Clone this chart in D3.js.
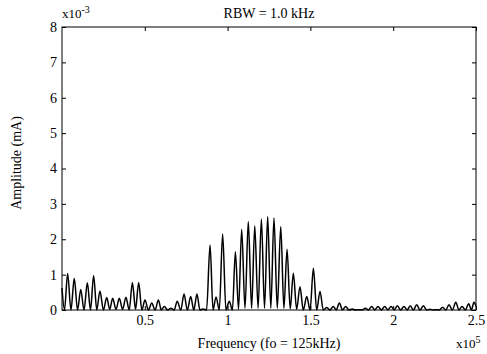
<!DOCTYPE html>
<html>
<head>
<meta charset="utf-8">
<script src="https://cdn.jsdelivr.net/npm/d3@7"></script>
<style>
  body { margin: 0; background: #fff; }
  text { font-family: "Liberation Serif", "Times New Roman", serif; fill: #000; }
</style>
</head>
<body>
<div class="spectrum"></div>
<script>
// spectrum: alternating peaks and troughs, freq in kHz, amplitude in 1e-3 mA
const freqKHz = [
  0, 1.5, 3.4, 5.4, 7.4, 9.4, 11.3, 13.3, 15.3, 17.2, 19.1, 21.0, 22.9, 25.0, 27.0, 28.8,
  30.6, 32.6, 34.6, 36.6, 38.6, 40.6, 42.5, 44.4, 46.3, 48.2, 50.1, 52.2, 54.2, 56.2, 58.2, 60.0,
  61.8, 63.8, 65.8, 67.7, 69.6, 71.7, 73.7, 75.7, 77.7, 79.6, 81.5, 83.3, 85.1, 87.3, 89.4, 91.2,
  93.0, 95.0, 97.0, 99.0, 101.0, 102.9, 104.7, 106.6, 108.5, 110.5, 112.5, 114.5, 116.4, 118.4,
  120.4, 122.3, 124.2, 126.1, 128.0, 130.0, 132.1, 134.0, 135.9, 137.8, 139.7, 141.7, 143.7, 145.7,
  147.8, 149.8, 151.8, 153.8, 155.8, 157.8, 159.9, 161.8, 163.8, 165.6, 167.5, 169.4, 171.3, 173.3,
  175.3, 177.2, 179.2, 181.2, 183.2, 185.1, 187.0, 188.9, 190.8, 192.8, 194.9, 196.8, 198.7, 200.6,
  202.5, 204.5, 206.5, 208.4, 210.3, 212.2, 214.2, 216.2, 218.2, 220.2, 222.2, 224.0, 225.9, 227.9,
  229.9, 231.8, 233.7, 235.7, 237.8, 239.7, 241.6, 243.6, 245.6, 247.2, 248.8, 250
];
const ampMilli = [
  0.62, 0, 1.03, 0, 0.89, 0, 0.58, 0, 0.77, 0, 0.97, 0, 0.54, 0, 0.35, 0.02,
  0.33, 0.02, 0.33, 0.02, 0.36, 0, 0.78, 0.02, 0.78, 0, 0.28, 0, 0.2, 0, 0.28, 0,
  0.1, 0, 0.05, 0, 0.25, 0, 0.45, 0, 0.38, 0, 0.45, 0, 0.03, 0, 1.84, 0,
  0.37, 0, 2.15, 0, 0.25, 0, 1.65, 0.02, 2.28, 0.05, 2.5, 0.05, 2.38, 0.05,
  2.57, 0.05, 2.64, 0.05, 2.6, 0.05, 2.36, 0.05, 1.72, 0.03, 1.04, 0.02, 0.66, 0,
  0.38, 0, 1.18, 0, 0.52, 0, 0.07, 0, 0.1, 0, 0.2, 0, 0.1, 0,
  0.03, 0, 0.01, 0, 0.05, 0, 0.1, 0, 0.1, 0, 0.1, 0, 0.1, 0,
  0.12, 0, 0.1, 0, 0.12, 0, 0.15, 0, 0.12, 0, 0.02, 0, 0.01, 0,
  0.08, 0, 0.15, 0, 0.22, 0, 0.1, 0, 0.18, 0, 0.22, 0.1
];
const xTicks = [50, 100, 150, 200, 250];
const xTickLabels = ["0.5", "1", "1.5", "2", "2.5"];
const yTicks = [0, 1, 2, 3, 4, 5, 6, 7, 8];

const width = 487, height = 354;
const margin = { top: 27, right: 11, bottom: 44, left: 62 };
const w = width - margin.left - margin.right,
      h = height - margin.top - margin.bottom;

const x = d3.scaleLinear().domain([0, 250]).range([0, w]);
const y = d3.scaleLinear().domain([0, 8]).range([h, 0]);

const svg = d3.select("div.spectrum").append("svg")
    .attr("width", width)
    .attr("height", height);

const g = svg.append("g")
    .attr("transform", "translate(" + margin.left + "," + margin.top + ")");

// inward ticks on all four sides, labels only bottom and left
const fmtX = d => xTickLabels[xTicks.indexOf(d)];

g.append("g")
    .attr("transform", "translate(0," + h + ")")
    .call(d3.axisBottom(x).tickValues(xTicks).tickFormat(fmtX).tickSizeInner(-4).tickSizeOuter(0).tickPadding(5));
g.append("g")
    .call(d3.axisTop(x).tickValues(xTicks).tickFormat("").tickSizeInner(-4).tickSizeOuter(0));
g.append("g")
    .call(d3.axisLeft(y).tickValues(yTicks).tickFormat(d3.format("d")).tickSizeInner(-4).tickSizeOuter(0).tickPadding(5));
g.append("g")
    .attr("transform", "translate(" + w + ",0)")
    .call(d3.axisRight(y).tickValues(yTicks).tickFormat("").tickSizeInner(-4).tickSizeOuter(0));

g.selectAll(".domain").remove();
g.selectAll(".tick line").attr("stroke", "#000");
g.selectAll(".tick text").attr("font-size", 14).attr("font-family", "Liberation Serif");

g.append("rect")
    .attr("width", w)
    .attr("height", h)
    .attr("fill", "none")
    .attr("stroke", "#000")
    .attr("stroke-width", 1);

const line = d3.line()
    .x((d, i) => x(freqKHz[i]))
    .y(d => y(d))
    .curve(d3.curveMonotoneX);

g.append("path")
    .datum(ampMilli)
    .attr("d", line)
    .attr("fill", "none")
    .attr("stroke", "#000")
    .attr("stroke-width", 1.5);

// titles and labels
svg.append("text")
    .attr("x", margin.left + w / 2)
    .attr("y", 18)
    .attr("text-anchor", "middle")
    .attr("font-size", 14)
    .text("RBW = 1.0 kHz");

const ex = svg.append("text")
    .attr("x", 62)
    .attr("y", 18)
    .attr("font-size", 13);
ex.append("tspan").text("x10");
ex.append("tspan").attr("dy", -5).attr("font-size", 10).text("-3");

svg.append("text")
    .attr("x", margin.left + w / 2)
    .attr("y", 348)
    .attr("text-anchor", "middle")
    .attr("font-size", 14)
    .text("Frequency (fo = 125kHz)");

const ex5 = svg.append("text")
    .attr("x", 456)
    .attr("y", 348)
    .attr("font-size", 13);
ex5.append("tspan").text("x10");
ex5.append("tspan").attr("dy", -5).attr("font-size", 10).text("5");

svg.append("text")
    .attr("transform", "translate(21," + 163 + ") rotate(-90)")
    .attr("text-anchor", "middle")
    .attr("font-size", 14)
    .text("Amplitude (mA)");
</script>
</body>
</html>
